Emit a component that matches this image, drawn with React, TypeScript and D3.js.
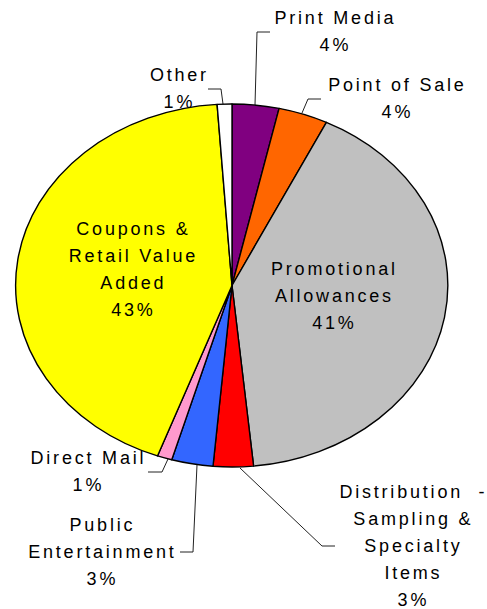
import React from "react";
import * as d3 from "d3";

// ---- data ----
const categories = [
  "Print Media",
  "Point of Sale",
  "Promotional Allowances",
  "Distribution - Sampling & Specialty Items",
  "Public Entertainment",
  "Direct Mail",
  "Coupons & Retail Value Added",
  "Other",
];
const shares = [3.5, 3.7, 41.2, 3.0, 3.1, 1.1, 43.3, 1.1];
const colors = ["#800080", "#FF6600", "#C0C0C0", "#FF0000", "#3366FF", "#FF99CC", "#FFFF00", "#FFFFFF"];
const labelLines = [
  ["Print Media"],
  ["Point of Sale"],
  ["Promotional", "Allowances"],
  ["Distribution  -", "Sampling &", "Specialty", "Items"],
  ["Public", "Entertainment"],
  ["Direct Mail"],
  ["Coupons &", "Retail Value", "Added"],
  ["Other"],
];

// ---- layout ----
const W = 487;
const H = 609;
const CX = 232;
const CY = 285.5;
const RX = 216;
const RY = 181.5;
const FS = 18;
const LH = 27;
const LS = 2.8;

// label anchor: center x, first baseline y, inside pie?
const labelPos: { x: number; y: number; inside: boolean }[] = [
  { x: 334, y: 24, inside: false },
  { x: 396, y: 91, inside: false },
  { x: 333, y: 275, inside: true },
  { x: 412, y: 498, inside: false },
  { x: 101, y: 531, inside: false },
  { x: 87, y: 464, inside: false },
  { x: 132, y: 235, inside: true },
  { x: 178, y: 81, inside: false },
];

const leaders: ([number, number][] | null)[] = [
  [[270, 32], [257, 32], [255, 105]],
  [[321, 99], [308, 99], [302, 113]],
  null,
  [[335, 546], [322, 546], [240, 468]],
  [[180, 552], [193, 552], [197, 465]],
  [[148, 472], [162, 472], [168, 459]],
  null,
  [[208, 89], [221, 89], [223, 104]],
];

export default function App() {
  const total = d3.sum(shares);
  const pie = d3.pie<number>().sort(null).value((d) => d)(shares);
  const arc = d3.arc<d3.PieArcDatum<number>>().innerRadius(0).outerRadius(1);
  const line = d3.line();

  const renderLabel = (i: number) => {
    const p = labelPos[i];
    const pct = Math.round((shares[i] / total) * 100) + "%";
    const lines = [...labelLines[i], pct];
    return (
      <text
        key={"t" + i}
        x={p.x}
        y={p.y}
        textAnchor="middle"
        fontFamily="'Liberation Sans', Arial, sans-serif"
        fontSize={FS}
        letterSpacing={LS}
        fill="#000"
        style={{ whiteSpace: "pre" }}
      >
        {lines.map((l, k) => (
          <tspan key={k} x={p.x + LS / 2} y={p.y + k * LH}>
            {l}
          </tspan>
        ))}
      </text>
    );
  };

  return (
    <svg
      width={W}
      height={H}
      style={{ position: "absolute", left: 0, top: 0, background: "#fff" }}
    >
      <rect width={W} height={H} fill="#fff" />
      {leaders.map((pts, i) =>
        pts ? (
          <path key={"l" + i} d={line(pts) || ""} fill="none" stroke="#222" strokeWidth={1} />
        ) : null
      )}
      {labelPos.map((p, i) => (p.inside ? null : renderLabel(i)))}
      <g transform={`translate(${CX},${CY}) scale(${RX},${RY})`}>
        {pie.map((d, i) => (
          <path
            key={categories[i]}
            d={arc(d) || ""}
            fill={colors[i]}
            stroke="#000"
            strokeWidth={1.4}
            strokeLinejoin="round"
            vectorEffect="non-scaling-stroke"
          />
        ))}
      </g>
      {labelPos.map((p, i) => (p.inside ? renderLabel(i) : null))}
    </svg>
  );
}
